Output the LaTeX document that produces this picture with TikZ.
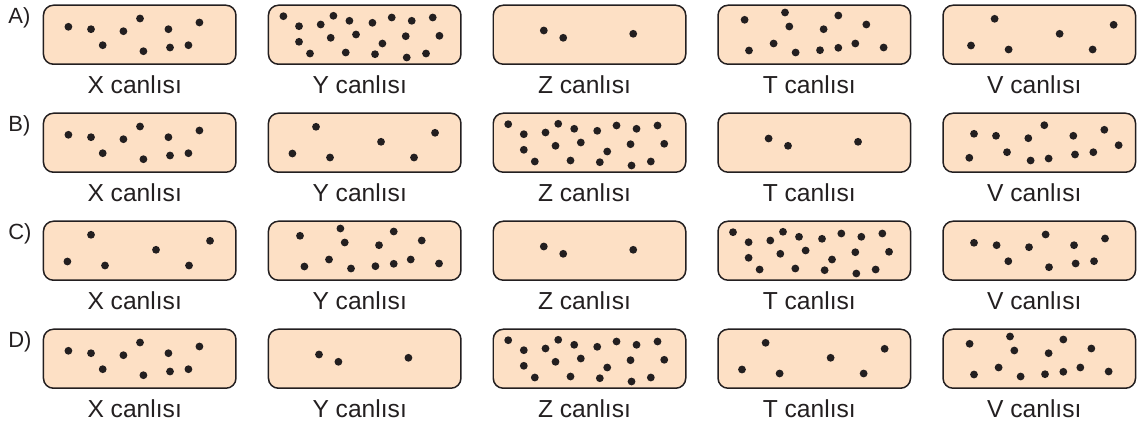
\documentclass[tikz,border=0pt]{standalone}
\usepackage{fontspec}
\setmainfont{Liberation Sans}
\usepackage{xcolor}
\usepackage{tikz}
\usetikzlibrary{calc}

\definecolor{ten}{RGB}{253,224,197}
\definecolor{murekkep}{RGB}{35,31,32}

% dot patterns (px from the top left corner of a box)
\newcommand{\desenOn}{25.7/22.3, 48.3/24.7, 60/40.7, 80.7/26.7, 97.3/14,
  100.7/46.7, 125.7/24.7, 127.3/43, 145.7/40.7, 156.7/18}
\newcommand{\desenYirmi}{15.7/11.7, 31.3/21.7, 53/20, 65.7/11.3, 81.7/16.3,
  104.7/18.3, 124/13, 144/16.3, 165/13, 31.3/37.3, 63/33.3, 88.3/30,
  114.7/39, 138/31.7, 171.7/31.3, 42.3/49, 78/48, 107.3/49.7, 139/53, 158.3/49}
\newcommand{\desenUc}{51.3/26, 70.7/33.3, 140.7/29.3}
\newcommand{\desenOnUc}{27.3/15.3, 67.7/8, 72/22, 106.3/24.7, 121/11, 149/20,
  31.7/46, 56.3/39, 78.3/48, 102.7/45.7, 121/43.3, 138/39, 166.3/43}
\newcommand{\desenAlti}{48.3/14.3, 24.7/41, 62.3/45, 113.3/29.3, 146.3/45, 167.3/20.3}
\newcommand{\desenV}{31.7/21.3, 53.7/23.3, 86/25.7, 102/12.7, 131/23.3, 162/17.3,
  176.3/32.7, 27/45.3, 64.7/39.7, 88.3/48, 106.3/46, 132.7/42, 151/39.7}

% one box: name, x, y, dot shift, dots, letter
\newcommand{\canli}[6]{%
  \node[kutu] (#1) at (#2,#3) {};
  \foreach \px/\py in #5 {
    \fill[nokta] ($(#1.north west)+({0.02*(\px+#4)},{-0.02*\py})$) circle (0.078);
  }
  \node[etiket] (#1-ad) at ($(#1.north)+(-0.1,-1.78)$) {#6 canlısı};
}

\begin{document}
\begin{tikzpicture}[
    kutu/.style={draw=murekkep, line width=0.85pt, fill=ten, rounded corners=0.2cm,
      minimum width=3.85cm, minimum height=1.18cm, inner sep=0, anchor=north west},
    nokta/.style={fill=murekkep},
    etiket/.style={font=\fontsize{14}{16}\selectfont, text=murekkep, anchor=base, inner sep=0},
    harf/.style={font=\fontsize{12.5}{15}\selectfont, text=murekkep, anchor=base west, inner sep=0}]
  \useasboundingbox (0,0) rectangle (22.74,-8.5);
  % row letters
  \node[harf] (harfA) at (0.16,-0.47) {A)};
  \node[harf] (harfB) at (0.16,-2.63) {B)};
  \node[harf] (harfC) at (0.16,-4.79) {C)};
  \node[harf] (harfD) at (0.16,-6.95) {D)};
  % row A
  \canli{A-X}{0.854}{-0.09}{0}{\desenOn}{X}
  \canli{A-Y}{5.354}{-0.09}{0}{\desenYirmi}{Y}
  \canli{A-Z}{9.85}{-0.09}{0}{\desenUc}{Z}
  \canli{A-T}{14.346}{-0.09}{0}{\desenOnUc}{T}
  \canli{A-V}{18.846}{-0.09}{4}{\desenAlti}{V}
  % row B
  \canli{B-X}{0.854}{-2.25}{0}{\desenOn}{X}
  \canli{B-Y}{5.354}{-2.25}{0}{\desenAlti}{Y}
  \canli{B-Z}{9.85}{-2.25}{0}{\desenYirmi}{Z}
  \canli{B-T}{14.346}{-2.25}{0}{\desenUc}{T}
  \canli{B-V}{18.846}{-2.25}{0}{\desenV}{V}
  % row C
  \canli{C-X}{0.854}{-4.41}{0}{\desenAlti}{X}
  \canli{C-Y}{5.354}{-4.41}{5}{\desenOnUc}{Y}
  \canli{C-Z}{9.85}{-4.41}{0}{\desenUc}{Z}
  \canli{C-T}{14.346}{-4.41}{0}{\desenYirmi}{T}
  \canli{C-V}{18.846}{-4.41}{6}{\desenOn}{V}
  % row D
  \canli{D-X}{0.854}{-6.57}{0}{\desenOn}{X}
  \canli{D-Y}{5.354}{-6.57}{0}{\desenUc}{Y}
  \canli{D-Z}{9.85}{-6.57}{0}{\desenYirmi}{Z}
  \canli{D-T}{14.346}{-6.57}{0}{\desenAlti}{T}
  \canli{D-V}{18.846}{-6.57}{0}{\desenOnUc}{V}
\end{tikzpicture}
\end{document}
